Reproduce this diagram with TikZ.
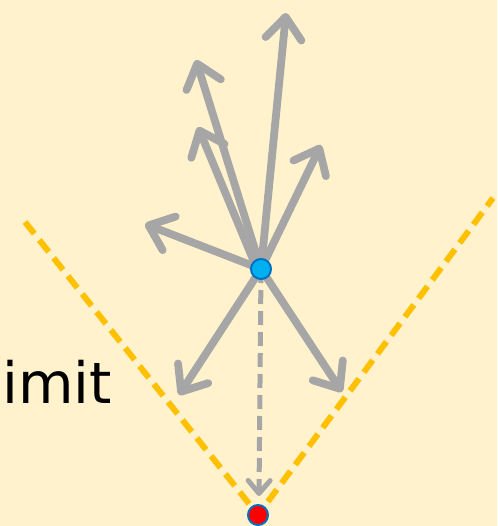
\documentclass[tikz,border=0pt]{standalone}
\usepackage{fontspec}
\setmainfont{DejaVu Sans}
\usetikzlibrary{arrows.meta}
\definecolor{bg}{HTML}{FFF2CC}
\definecolor{gold}{HTML}{FFC000}
\definecolor{gr}{HTML}{A6A6A6}
\definecolor{dotblue}{HTML}{00B0F0}
\definecolor{dotedge}{HTML}{0070C0}
\tikzset{
  ray/.style={draw=gr, line width=7.8pt, line cap=round,
    -{Straight Barb[length=22pt, width=36pt, round]}},
  dray/.style={draw=gr, line width=5pt, dash pattern=on 14pt off 7pt,
    -{Straight Barb[length=13pt, width=22pt, round]}},
  limitline/.style={draw=gold, line width=6pt, dash pattern=on 15pt off 8pt},
  bluedot/.style={circle, fill=dotblue, draw=dotedge, line width=2pt, minimum size=20pt, inner sep=0pt},
  reddot/.style={circle, fill=red, draw=dotedge, line width=2pt, minimum size=20pt, inner sep=0pt},
  lbl/.style={font=\fontsize{57}{64}\selectfont, text=black, inner sep=0pt, anchor=base west}
}
\begin{document}
\begin{tikzpicture}[x=1pt, y=-1pt]
\fill[bg] (0,0) rectangle (497,526);
\useasboundingbox (0,0) rectangle (497,526);
\coordinate (s) at (261,269);
\coordinate (d) at (258,515);
\coordinate (L) at (25,222);
\coordinate (R) at (493,198);
\coordinate (t1) at (286,13);
\coordinate (t2) at (196,60);
\coordinate (t3) at (198,127);
\coordinate (t4) at (321,145);
\coordinate (t5) at (145,224);
\coordinate (t6) at (179,395);
\coordinate (t7) at (342,392);
\coordinate (t8) at (259,496);
\draw[limitline] (L) -- (d) -- (R);
\draw[ray] (s) -- (t1);
\draw[ray] (s) -- (t2);
\draw[ray] ([xshift=-4pt]s) -- (t3);
\draw[ray] (s) -- (t4);
\draw[ray] (s) -- (t5);
\draw[ray] (s) -- (t6);
\draw[ray] (s) -- (t7);
\draw[dray] (s) -- (t8);
\node[bluedot] (src) at (s) {};
\node[reddot] (dst) at (d) {};
\node[lbl] (txt) at (2,403) {imit};
\end{tikzpicture}
\end{document}
